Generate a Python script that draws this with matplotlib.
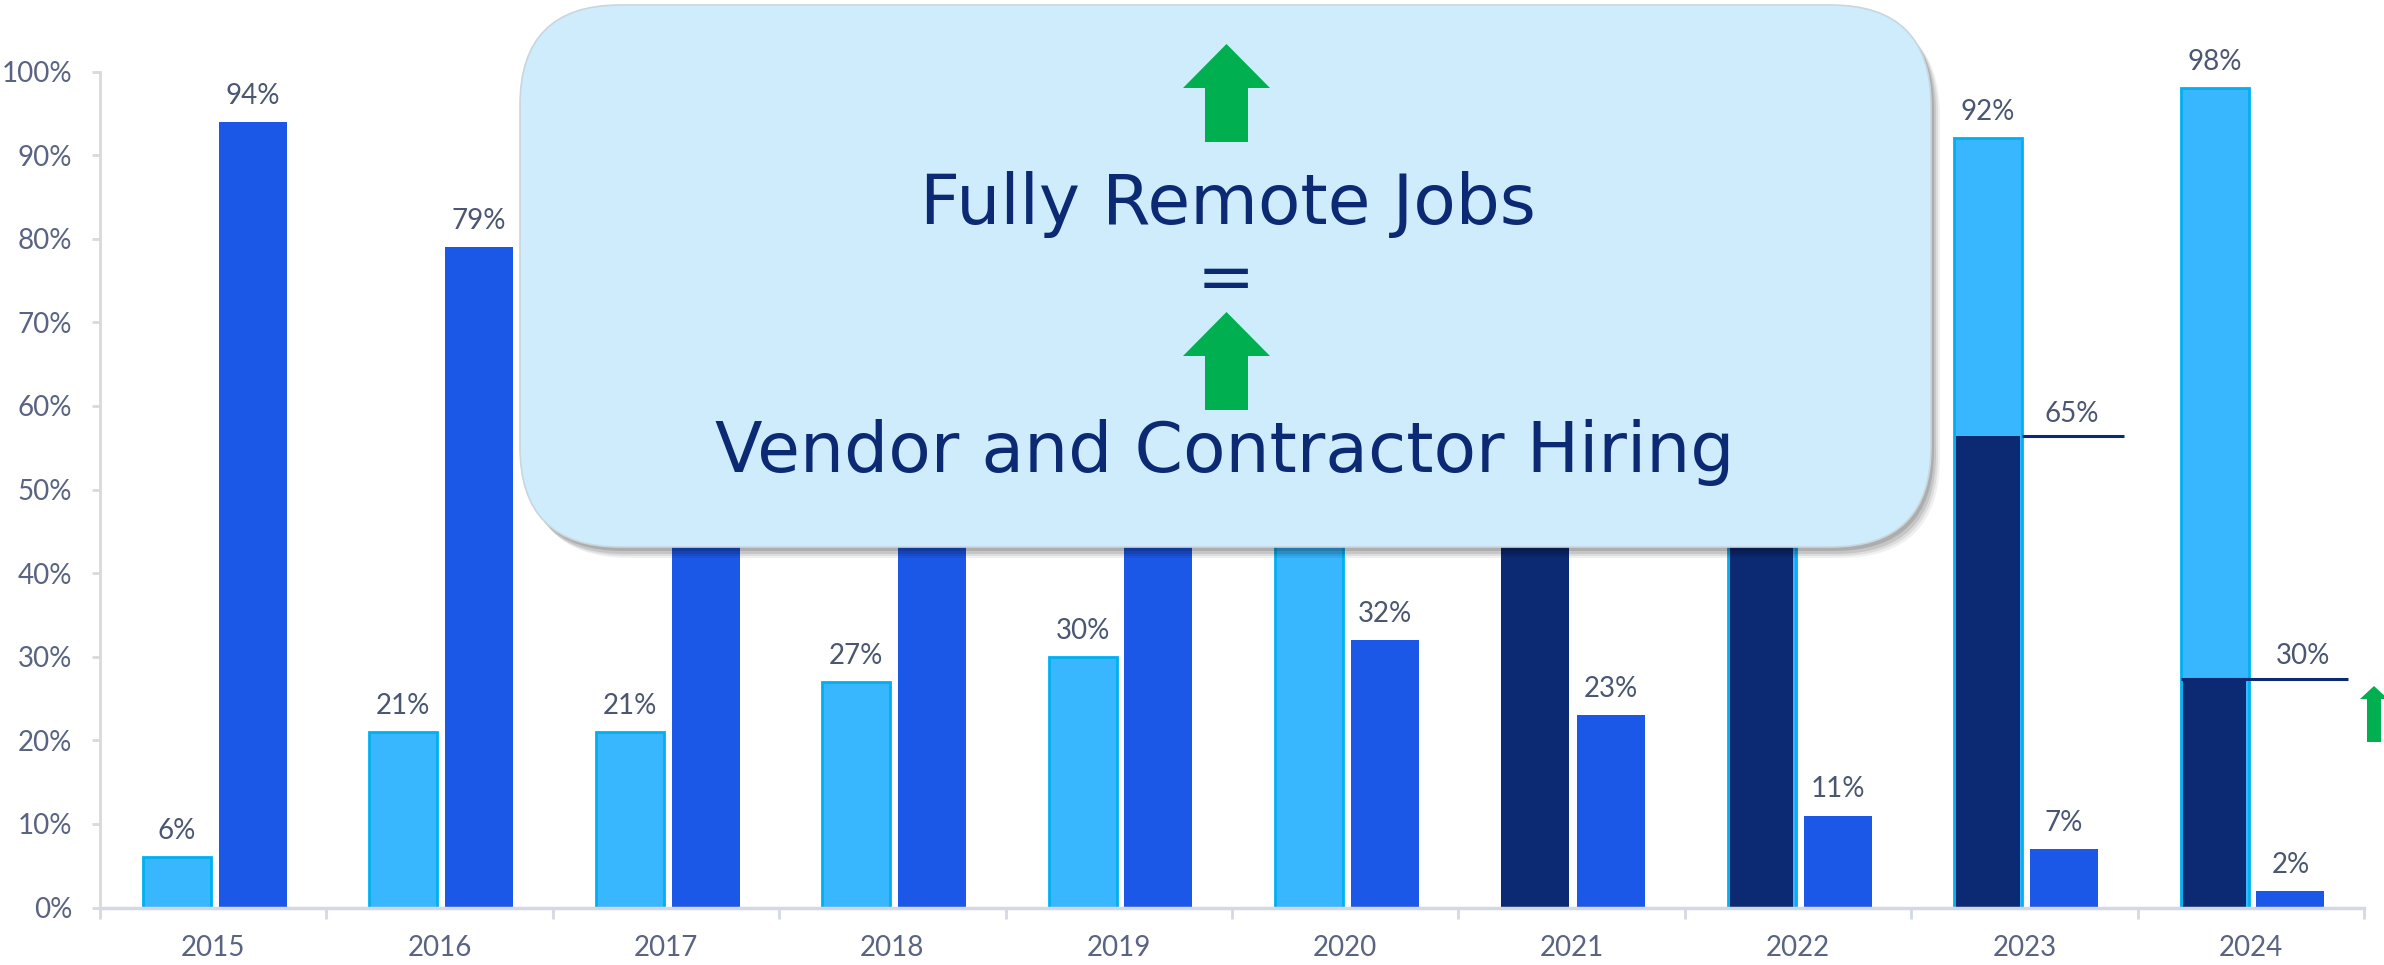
import matplotlib
matplotlib.use("Agg")
import matplotlib.pyplot as plt
from matplotlib.patches import FancyBboxPatch, Polygon
import numpy as np

plt.rcParams['font.family'] = ['Lato', 'DejaVu Sans']

# ---------------- data ----------------
years = ["2015", "2016", "2017", "2018", "2019", "2020", "2021", "2022", "2023", "2024"]
light_vals = [6, 21, 21, 27, 30, 68, None, 89, 92, 98]       # light-blue series
navy_vals = [None, None, None, None, None, None, 77, 89, 56.4, 27.3]  # navy overlay as drawn
navy_labels = ["", "", "", "", "", "", "77%", "89%", "65%", "30%"]
blue_vals = [94, 79, 72, 70, 68, 32, 23, 11, 7, 2]          # blue series
yticks = [0, 10, 20, 30, 40, 50, 60, 70, 80, 90, 100]

box_line1 = "Fully Remote Jobs"
box_eq = "="
box_line2 = "Vendor and Contractor Hiring"

# ---------------- style ----------------
C_LIGHT = "#38B6FE"
C_LIGHT_EDGE = "#00B0F0"
C_BLUE = "#1C58E8"
C_NAVY = "#0C2A74"
C_TEXT = "#4B5672"
C_TICK = "#5A6482"
C_GREEN = "#00AF50"
C_BOX = "#CFECFC"
BOX_FONT = ['DejaVu Sans']

W, H = 2384, 965
fig = plt.figure(figsize=(W / 100, H / 100), dpi=100)
ax = fig.add_axes([100 / W, (H - 907.5) / H, (2364 - 100) / W, (907.5 - 71.5) / H])
ax.set_zorder(1)

x = np.arange(len(years))
bw = 0.30
off_l, off_b = -0.16, 0.175

# light bars
for i, v in enumerate(light_vals):
    if v is None:
        continue
    ax.bar(x[i] + off_l, v, width=bw, color=C_LIGHT, edgecolor=C_LIGHT_EDGE,
           linewidth=2, zorder=2)
    if navy_vals[i] is None or i >= 8:
        ax.annotate(f"{v}%", (x[i] + off_l, v), xytext=(0, 13), textcoords="offset points",
                    ha="center", va="baseline", fontsize=20, color=C_TEXT, zorder=3)

# navy bars
for i, v in enumerate(navy_vals):
    if v is None:
        continue
    wnv = bw - 0.02 if light_vals[i] is not None else bw
    ax.bar(x[i] + off_l, v, width=wnv, color=C_NAVY, linewidth=0, zorder=2.5)

# navy label lines (2023, 2024)
ax.plot([x[8] + off_l + bw / 2, x[8] + 0.44], [navy_vals[8], navy_vals[8]],
        color=C_NAVY, lw=2.2, zorder=3, solid_capstyle="butt")
ax.annotate(navy_labels[8], (x[8] + 0.21, navy_vals[8]), xytext=(0, 10),
            textcoords="offset points", ha="center", va="baseline", fontsize=20, color=C_TEXT)
ax.plot([x[9] + off_l - bw / 2, x[9] + 0.43], [navy_vals[9], navy_vals[9]],
        color=C_NAVY, lw=2.2, zorder=3, solid_capstyle="butt")
ax.annotate(navy_labels[9], (x[9] + 0.23, navy_vals[9]), xytext=(0, 11),
            textcoords="offset points", ha="center", va="baseline", fontsize=20, color=C_TEXT)

# blue bars
for i, v in enumerate(blue_vals):
    ax.bar(x[i] + off_b, v, width=bw, color=C_BLUE, linewidth=0, zorder=2)
    ax.annotate(f"{v}%", (x[i] + off_b, v), xytext=(0, 13), textcoords="offset points",
                ha="center", va="baseline", fontsize=20, color=C_TEXT, zorder=3)

ax.set_xlim(-0.5, len(years) - 0.5)
ax.set_ylim(0, 100)
ax.set_yticks(yticks)
ax.set_yticklabels([f"{t}%" for t in yticks])
ax.set_xticks(x)
ax.set_xticklabels(years)
ax.set_xticks(np.arange(-0.5, len(years)), minor=True)
ax.tick_params(axis="x", which="major", length=0, pad=20, labelsize=20, labelcolor=C_TICK)
ax.tick_params(axis="x", which="minor", length=8, width=2, color="#D3D8E3", direction="out")
ax.tick_params(axis="y", length=6, width=2, color="#D9D9D9", pad=14, labelsize=20,
               labelcolor=C_TICK)
for s in ["top", "right"]:
    ax.spines[s].set_visible(False)
ax.spines["left"].set_color("#D9D9D9")
ax.spines["left"].set_linewidth(2)
ax.spines["bottom"].set_color("#D3D8E3")
ax.spines["bottom"].set_linewidth(2.5)
ax.patch.set_visible(False)

# ---------------- overlay (pixel coords) ----------------
ov = fig.add_axes([0, 0, 1, 1])
ov.set_zorder(10)
ov.set_xlim(0, W)
ov.set_ylim(H, 0)
ov.axis("off")
ov.patch.set_visible(False)

bx, by, bwid, bht = 520, 5, 1411, 542
for dx, dy, a in [(9, 11, 0.06), (7, 9, 0.08), (5, 7, 0.10), (3, 4, 0.12)]:
    ov.add_patch(FancyBboxPatch((bx + dx, by + dy), bwid, bht,
                                boxstyle="round,pad=0,rounding_size=100",
                                facecolor="#000000", edgecolor="none", alpha=a, zorder=1))
ov.add_patch(FancyBboxPatch((bx, by), bwid, bht, boxstyle="round,pad=0,rounding_size=100",
                            facecolor=C_BOX, edgecolor="#C9D6DE", linewidth=1.2, zorder=2))


def up_arrow(cx, tip, base, bottom, hw, sw):
    pts = [(cx, tip), (cx + hw, base), (cx + sw, base), (cx + sw, bottom),
           (cx - sw, bottom), (cx - sw, base), (cx - hw, base)]
    ov.add_patch(Polygon(pts, closed=True, facecolor=C_GREEN, edgecolor="none", zorder=3))


up_arrow(1226.5, 44, 88, 142, 43.5, 21.5)
up_arrow(1226.5, 312, 356, 410, 43.5, 21.5)
up_arrow(2374, 686, 699, 742, 14, 7)

ov.text(1228, 224, box_line1, ha="center", va="baseline", fontsize=50, color=C_NAVY,
        family=BOX_FONT, zorder=4)
ov.text(1226, 281, box_eq, ha="center", va="center", fontsize=50, color=C_NAVY,
        family=BOX_FONT, zorder=4)
ov.text(1225, 472, box_line2, ha="center", va="baseline", fontsize=50, color=C_NAVY,
        family=BOX_FONT, zorder=4)

fig.savefig("out.png", dpi=100, facecolor="white")
